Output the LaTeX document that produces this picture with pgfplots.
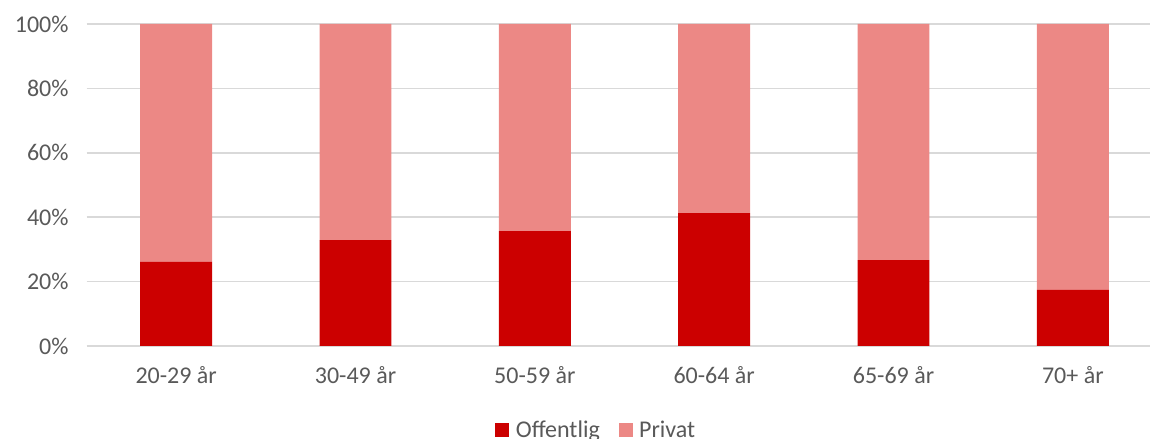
\documentclass[border=0pt]{standalone}
\usepackage{pgfplots}
\pgfplotsset{compat=1.18}
\usepackage{fontspec}
\setmainfont{Carlito}
\definecolor{offc}{HTML}{CC0000}
\definecolor{privc}{HTML}{EC8885}
\definecolor{gridc}{HTML}{D9D9D9}
\definecolor{txt}{HTML}{595959}
\begin{document}
\begin{tikzpicture}
\useasboundingbox (0,0) rectangle (862.5pt,329.25pt);
\begin{axis}[
  at={(64.9pt,69.75pt)}, anchor=south west,
  scale only axis, width=807pt, height=241.5pt,
  ybar stacked, bar width=0.401,
  xmin=-0.5, xmax=5.5, ymin=0, ymax=100,
  xtick=data,
  xticklabels={20-29 år,30-49 år,50-59 år,60-64 år,65-69 år,70+ år},
  ytick={0,20,40,60,80,100},
  yticklabel={\pgfmathprintnumber{\tick}\%},
  /pgf/number format/assume math mode=true,
  axis line style={draw=none},
  major tick style={draw=none},
  ymajorgrids, grid style={gridc, line width=1.1pt},
  ticklabel style={font=\fontsize{18}{21}\selectfont, text=txt},
  yticklabel style={xshift=-10pt},
  xticklabel style={yshift=-12pt},
  legend style={at={(0.474,-0.261)}, anchor=center, draw=none,
    font=\fontsize{18}{21}\selectfont, text=txt,
    /tikz/every even column/.append style={column sep=12pt}},
  legend columns=2,
  legend image code/.code={\fill[#1] (0pt,-5.25pt) rectangle (10.5pt,5.25pt);},
  legend cell align=left,
]
\addplot[fill=offc, draw=none] coordinates {(0,26.1) (1,32.9) (2,35.7) (3,41.3) (4,26.7) (5,17.4)};
\addplot[fill=privc, draw=none] coordinates {(0,73.9) (1,67.1) (2,64.3) (3,58.7) (4,73.3) (5,82.6)};
\legend{\hspace{3pt}Offentlig, \hspace{3pt}Privat}
\end{axis}
\end{tikzpicture}
\end{document}
